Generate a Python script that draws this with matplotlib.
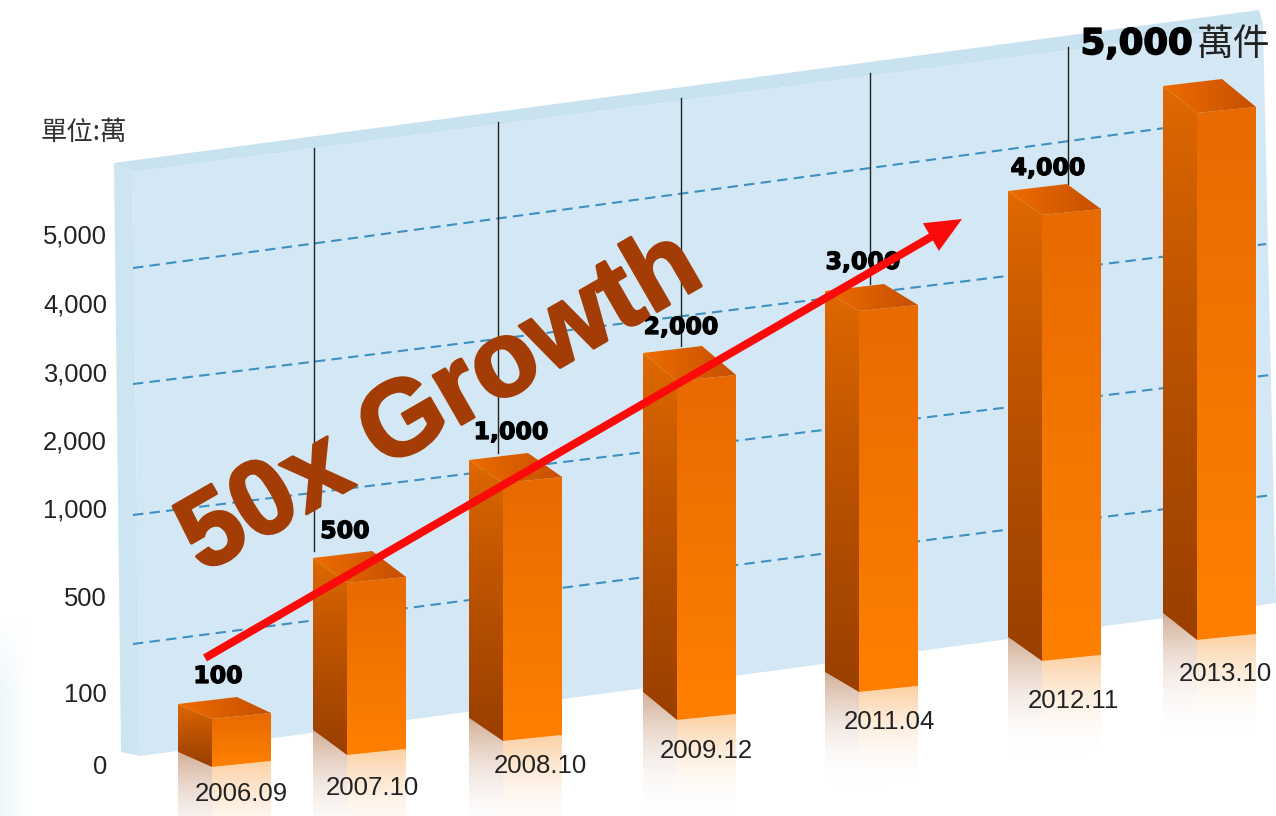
import numpy as np
import matplotlib
matplotlib.use("Agg")
import matplotlib.pyplot as plt
import matplotlib.patheffects as pe
from matplotlib.colors import to_rgb
from matplotlib.patches import FancyArrow, Polygon

plt.rcParams['font.family'] = ['Liberation Sans', 'Noto Sans CJK TC', 'DejaVu Sans']

# ----------------------------
# Data
# ----------------------------
dates = ["2006.09", "2007.10", "2008.10", "2009.12", "2011.04", "2012.11", "2013.10"]
values = [100, 500, 1000, 2000, 3000, 4000, 5000]
value_labels = ["100", "500", "1,000", "2,000", "3,000", "4,000"]
top_label = "5,000"
top_unit = "萬件"
axis_ticks = [0, 100, 500, 1000, 2000, 3000, 4000, 5000]
axis_tick_labels = ["0", "100", "500", "1,000", "2,000", "3,000", "4,000", "5,000"]
unit_label = "單位:萬"
growth_label = "50x Growth"

# ----------------------------
# Layout of the fake 3D scene, in picture pixels
# ----------------------------
bar_left = [178, 313, 469, 643, 825, 1008, 1163]
bar_base = [767, 755, 741, 720, 692, 661, 640]
bar_depth = [15, 25, 23, 28, 20, 24, 27]
bar_px = [48, 172, 258, 339, 381, 446, 527]   # the chart's height is not linear in value
side_w, front_w = 34, 59

label_xy = [(218, 676), (345, 531), (511, 432), (681, 327), (863, 262), (1048, 168)]
date_xy = [(241, 794), (372, 788), (540, 766), (706, 751), (889, 722), (1073, 701), (1225, 674)]
tick_px = [765, 693, 596, 508, 440, 372, 303, 234]
grid_lines = [((133, 268), (1165, 128)), ((133, 384), (1266, 244)),
              ((133, 515), (1270, 375)), ((133, 644), (1272, 495))]
vlines = [(314, 148), (498, 122), (681, 98), (870, 73), (1068, 47)]


def grad(ax, pts, c0, c1, horizontal=False, a0=1.0, a1=1.0, z=3, gamma=1.0):
    # gradient image clipped to a polygon
    pts = np.array(pts, dtype=float)
    t = np.linspace(0, 1, 256) ** gamma
    rgba = np.zeros((256, 1, 4))
    rgba[:, 0, :3] = np.outer(1 - t, to_rgb(c0)) + np.outer(t, to_rgb(c1))
    rgba[:, 0, 3] = a0 + (a1 - a0) * t
    if horizontal:
        rgba = rgba.transpose(1, 0, 2)
    x0, x1, y0, y1 = pts[:, 0].min(), pts[:, 0].max(), pts[:, 1].min(), pts[:, 1].max()
    im = ax.imshow(rgba, extent=(x0, x1, y1, y0), aspect='auto', zorder=z, interpolation='bilinear')
    patch = Polygon(pts, closed=True, transform=ax.transData, fc='none', ec='none')
    ax.add_patch(patch)
    im.set_clip_path(patch)


fig = plt.figure(figsize=(12.76, 8.16), dpi=100, facecolor='white')
ax = fig.add_axes([0, 0, 1, 1])
ax.axis('off')

# pale glow in the lower left corner
grad(ax, [(0, 620), (28, 620), (28, 816), (0, 816)], '#ecf7fc', '#ffffff', horizontal=True, z=0)
grad(ax, [(0, 615), (30, 615), (30, 700), (0, 700)], '#ffffff', '#ffffff', a0=1.0, a1=0.0, z=0.5)

# ----------------------------
# Back panel
# ----------------------------
ax.add_patch(Polygon([(114, 163), (1259, 10), (1263, 25), (133, 172)], fc='#c9e2ef', ec='none', zorder=1))
ax.add_patch(Polygon([(114, 163), (133, 172), (140, 756), (121, 752)], fc='#cde4f1', ec='none', zorder=1))
ax.add_patch(Polygon([(133, 172), (1263, 25), (1276, 603), (140, 756)], fc='#d3e8f4', ec='none', zorder=1))

for (xa, ya), (xb, yb) in grid_lines:
    ax.plot([xa, xb], [ya, yb], color='#3f90bf', lw=1.5, ls=(0, (5, 3)), zorder=2)

# ----------------------------
# Bars
# ----------------------------
for i in range(len(values)):
    x0 = bar_left[i]
    x1 = x0 + side_w
    x2 = x1 + front_w
    base = bar_base[i]
    d = bar_depth[i]
    top = base - bar_px[i]

    # reflections
    fade = 95
    grad(ax, [(x0, base - d), (x1, base), (x1, base + fade), (x0, base + fade - 5)],
         '#cfa68c', '#ffffff', a0=0.9, a1=0.0, z=2.5)
    grad(ax, [(x1, base), (x2, base - 6), (x2, base + fade - 6), (x1, base + fade)],
         '#fccb98', '#ffffff', a0=0.9, a1=0.0, z=2.5)

    # side, front, top faces
    side = [(x0, top - d), (x1, top), (x1, base), (x0, base - d)]
    grad(ax, side, '#e26a00', '#9a3f00', z=3, gamma=0.8)
    grad(ax, [(x1, top), (x2, top - 6), (x2, base - 6), (x1, base)], '#e86a00', '#ff8000', z=3)
    grad(ax, [(x0, top - d), (x0 + front_w, top - d - 7), (x2, top - 6), (x1, top)],
         '#ee6c00', '#c64f00', horizontal=True, z=3)

# vertical lines stop at the bar tops
for x, y in vlines:
    i = min(range(len(bar_left)), key=lambda k: abs(bar_left[k] + front_w - x))
    ax.plot([x, x], [y, bar_base[i] - bar_px[i] - bar_depth[i] - 7], color='#222222', lw=1, zorder=2.8)

# ----------------------------
# Text
# ----------------------------
heavy = [pe.withStroke(linewidth=0.9, foreground='black')]
for lab, (x, y) in zip(value_labels, label_xy):
    ax.text(x, y, lab, fontsize=17, fontweight='bold', family='DejaVu Sans', color='black',
            ha='center', va='center', zorder=4, path_effects=heavy)
ax.text(1193, 44, top_label, fontsize=25.5, fontweight='bold', family='DejaVu Sans', color='black',
        ha='right', va='center', zorder=4, path_effects=[pe.withStroke(linewidth=1.2, foreground='black')])
ax.text(1197, 44, top_unit, fontsize=26.5, family='Noto Sans CJK TC', fontweight='light', color='#222222',
        ha='left', va='center', zorder=4)
for lab, (x, y) in zip(dates, date_xy):
    ax.text(x, y, lab, fontsize=18.5, color='#222222', ha='center', va='center', zorder=4)
ax.text(40, 132, unit_label, fontsize=19, family='Noto Sans CJK TC', color='#333333',
        ha='left', va='center', zorder=4)

ax.text(441, 404, growth_label, fontsize=77, fontweight='bold', color='#a33c05', rotation=30,
        rotation_mode='anchor', ha='center', va='center', zorder=5,
        path_effects=[pe.withStroke(linewidth=2, foreground='#a33c05')])
ax.add_patch(FancyArrow(205, 658, 757, -439, width=8, head_width=32, head_length=36,
                        length_includes_head=True, color='#fb0a0a', lw=0, zorder=6))

ax.set_xlim(0, 1276)
ax.set_ylim(816, 0)

# ----------------------------
# Value axis: ticks are evenly placed by the picture, not by value
# ----------------------------
H = 816.0
ax_val = fig.add_axes([107 / 1276, (H - tick_px[0]) / H, 0.02, (tick_px[0] - tick_px[-1]) / H])
ax_val.patch.set_visible(False)
for s in ax_val.spines.values():
    s.set_visible(False)
ax_val.set_yscale('function', functions=(lambda v: np.interp(v, axis_ticks, tick_px[0] - np.array(tick_px)),
                                         lambda p: np.interp(p, tick_px[0] - np.array(tick_px), axis_ticks)))
ax_val.set_ylim(axis_ticks[0], axis_ticks[-1])
ax_val.set_yticks(axis_ticks)
ax_val.set_yticklabels(axis_tick_labels, fontsize=18.4, color='#222222')
ax_val.minorticks_off()
ax_val.set_xticks([])
ax_val.tick_params(axis='y', length=0, pad=0)

fig.savefig("out.png", dpi=100, facecolor='white')
